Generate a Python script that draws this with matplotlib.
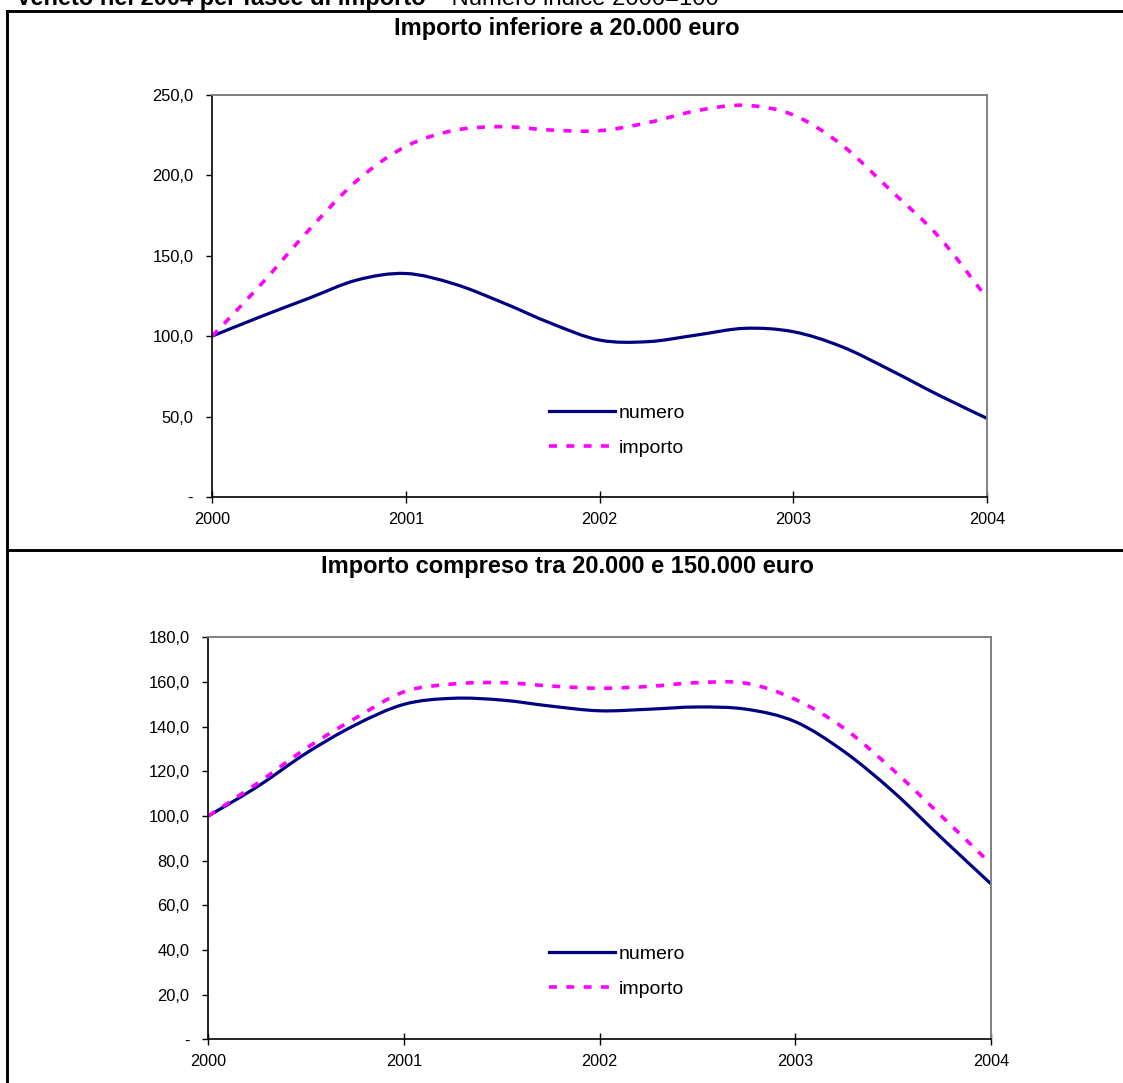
import matplotlib
matplotlib.use("Agg")
import matplotlib.pyplot as plt
from matplotlib.path import Path
from matplotlib.patches import PathPatch
from matplotlib.lines import Line2D
from matplotlib.ticker import FixedLocator, FuncFormatter

plt.rcParams['font.family'] = ['Liberation Sans', 'DejaVu Sans']

# Quarterly positions (2000 Q1 ... 2004 Q1)
trimestri = [2000.00, 2000.25, 2000.50, 2000.75,
             2001.00, 2001.25, 2001.50, 2001.75,
             2002.00, 2002.25, 2002.50, 2002.75,
             2003.00, 2003.25, 2003.50, 2003.75,
             2004.00]
anni = [2000, 2001, 2002, 2003, 2004]

# Importo inferiore a 20.000 euro (indice 2000=100)
numero_basso = [100.0, 112.1, 123.6, 135.0, 139.0, 132.5, 120.9, 108.0, 97.6,
                96.6, 100.7, 104.9, 102.8, 93.5, 79.0, 63.4, 48.9]
importo_basso = [100.0, 131.8, 166.0, 197.0, 218.0, 228.0, 230.3, 228.2, 227.8,
                 232.8, 240.2, 243.6, 237.6, 219.0, 191.0, 162.0, 123.6]

# Importo compreso tra 20.000 e 150.000 euro (indice 2000=100)
numero_medio = [100.0, 113.1, 128.1, 140.7, 150.0, 152.7, 151.9, 149.2, 147.1,
                147.8, 148.8, 147.8, 142.2, 128.8, 110.9, 90.0, 69.6]
importo_medio = [100.0, 114.6, 130.3, 143.7, 155.6, 159.1, 159.7, 158.2, 157.2,
                 158.0, 159.7, 159.4, 152.2, 139.2, 120.6, 99.7, 78.5]

ticks_basso = [0, 50, 100, 150, 200, 250]
ticks_medio = [0, 20, 40, 60, 80, 100, 120, 140, 160, 180]

titoli = ["Importo inferiore a 20.000 euro",
          "Importo compreso tra 20.000 e 150.000 euro"]
etichette = ["numero", "importo"]

NAVY = "#000080"
MAGENTA = "#FF00FF"
GRIGIO = "#808080"


def smooth_path(xs, ys):
    """Smoothed line through the points (cubic Bezier, Catmull-Rom tangents)."""
    n = len(xs)
    verts = [(xs[0], ys[0])]
    codes = [Path.MOVETO]
    for i in range(n - 1):
        i0 = max(i - 1, 0)
        i3 = min(i + 2, n - 1)
        c1 = (xs[i] + (xs[i + 1] - xs[i0]) / 6.0, ys[i] + (ys[i + 1] - ys[i0]) / 6.0)
        c2 = (xs[i + 1] - (xs[i3] - xs[i]) / 6.0, ys[i + 1] - (ys[i3] - ys[i]) / 6.0)
        verts += [c1, c2, (xs[i + 1], ys[i + 1])]
        codes += [Path.CURVE4, Path.CURVE4, Path.CURVE4]
    return Path(verts, codes)


def fmt_val(v, pos):
    if abs(v) < 1e-9:
        return "-"
    return f"{v:.1f}".replace(".", ",")


W, H = 1123, 1083
fig = plt.figure(figsize=(W / 100, H / 100), dpi=100)


def fx(px):
    return px / W


def fy(py):
    return 1 - py / H


def pannello(rect, numero, importo, yticks, leg_anchor):
    ax = fig.add_axes(rect)
    ax.add_patch(PathPatch(smooth_path(trimestri, numero), fill=False,
                           edgecolor=NAVY, linewidth=2.3, capstyle='butt'))
    ax.add_patch(PathPatch(smooth_path(trimestri, importo), fill=False,
                           edgecolor=MAGENTA, linewidth=2.6,
                           linestyle=(0, (2.2, 2.6)), capstyle='butt'))
    ax.set_xlim(anni[0], anni[-1])
    ax.set_ylim(yticks[0], yticks[-1])
    ax.xaxis.set_major_locator(FixedLocator(anni))
    ax.set_xticklabels([str(a) for a in anni])
    ax.yaxis.set_major_locator(FixedLocator(yticks))
    ax.yaxis.set_major_formatter(FuncFormatter(fmt_val))
    ax.tick_params(axis='x', direction='inout', length=9, width=1.0,
                   pad=6, labelsize=11.7, color='black')
    ax.tick_params(axis='y', direction='out', length=4.5, width=1.0,
                   pad=9, labelsize=11.9, color='black')
    for s in ('left', 'bottom'):
        ax.spines[s].set_color('black')
        ax.spines[s].set_linewidth(1.2)
    for s in ('top', 'right'):
        ax.spines[s].set_color(GRIGIO)
        ax.spines[s].set_linewidth(1.4)
    handles = [Line2D([], [], color=NAVY, linewidth=2.3),
               Line2D([], [], color=MAGENTA, linewidth=2.6, linestyle=(0, (2.2, 2.6)))]
    ax.legend(handles, etichette, loc='center left', bbox_to_anchor=leg_anchor,
              frameon=False, fontsize=14, handlelength=3.4, handletextpad=0.2,
              labelspacing=0.9, borderpad=0, borderaxespad=0)
    return ax


# Upper panel
pannello([fx(212), fy(497), fx(987) - fx(212), fy(95) - fy(497)],
         numero_basso, importo_basso, ticks_basso, (0.4348, 0.1654))
# Lower panel
pannello([fx(208.3), fy(1039.4), fx(991) - fx(208.3), fy(637.3) - fy(1039.4)],
         numero_medio, importo_medio, ticks_medio, (0.4353, 0.1688))

# Panel titles
fig.text(fx(567), fy(28), titoli[0], ha='center', va='center',
         fontsize=17, fontweight='bold')
fig.text(fx(567), fy(566), titoli[1], ha='center', va='center',
         fontsize=17, fontweight='bold')

# Heading (partly above the sheet edge)
t1 = fig.text(fx(16), fy(5), "Veneto nel 2004 per fasce di importo",
              ha='left', va='baseline', fontsize=17, fontweight='bold')
fig.canvas.draw()
bb = t1.get_window_extent()
fig.text(bb.x1 / W + fx(11), fy(5), "- Numero indice 2000=100",
         ha='left', va='baseline', fontsize=17.2)

# Sheet frame
lw = 2.1
fig.add_artist(Line2D([fx(7), fx(7)], [fy(11), 0], transform=fig.transFigure,
                      color='black', linewidth=lw))
fig.add_artist(Line2D([fx(7), 1], [fy(11), fy(11)], transform=fig.transFigure,
                      color='black', linewidth=lw))
fig.add_artist(Line2D([fx(7), 1], [fy(550), fy(550)], transform=fig.transFigure,
                      color='black', linewidth=lw))

fig.savefig("out.png", dpi=100)
